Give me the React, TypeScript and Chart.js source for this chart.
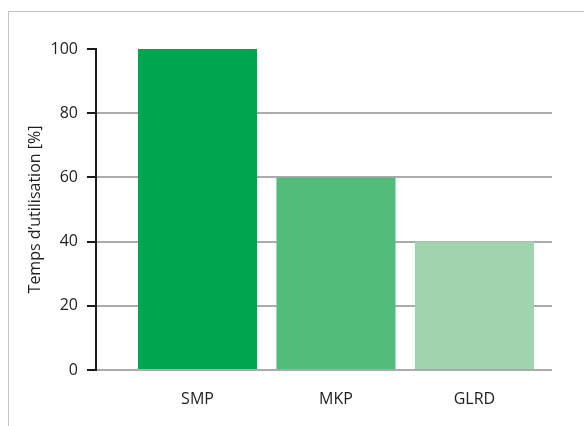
import React, { useEffect, useRef } from "react";
import { Chart, registerables } from "chart.js";

Chart.register(...registerables);

const categories = ["SMP", "MKP", "GLRD"];
const values = [100, 60, 40];
const barColors = ["#00A64F", "#52BC7A", "#A1D3AE"];
const yTicks = [0, 20, 40, 60, 80, 100];
const yTitle = "Temps d’utilisation [%]";

export default function App() {
  const ref = useRef<HTMLCanvasElement | null>(null);

  useEffect(() => {
    if (!ref.current) return;
    const font = { family: "'Open Sans', sans-serif", size: 16 };
    const chart = new Chart(ref.current, {
      type: "bar",
      data: {
        datasets: [
          {
            data: values.map((v, i) => ({ x: i, y: v })),
            backgroundColor: barColors,
            borderWidth: 0,
            barPercentage: 0.86,
            categoryPercentage: 1,
          },
        ],
      },
      options: {
        responsive: false,
        animation: false,
        events: [],
        layout: { padding: { left: 24, top: 49, right: 32, bottom: 0 } },
        plugins: { legend: { display: false }, tooltip: { enabled: false } },
        scales: {
          x: {
            type: "linear",
            min: -0.733,
            max: 2.56,
            offset: false,
            grid: { display: false },
            border: { display: false },
            afterBuildTicks: (scale: any) => {
              scale.ticks = categories.map((_, i) => ({ value: i }));
            },
            afterFit: (scale: any) => {
              scale.height = 56;
            },
            ticks: {
              autoSkip: false,
              maxRotation: 0,
              padding: 12,
              color: "#1f1f1f",
              font,
              callback: (v: any) => categories[Math.round(Number(v))] ?? "",
            },
          },
          y: {
            min: 0,
            max: 100,
            z: 1,
            afterBuildTicks: (scale: any) => {
              scale.ticks = yTicks.map((v) => ({ value: v }));
            },
            afterFit: (scale: any) => {
              scale.width = 72;
            },
            grid: {
              color: (ctx: any) =>
                ctx.tick && ctx.tick.value === 100 ? "rgba(0,0,0,0)" : "#ababad",
              tickColor: "#1a1a1a",
              lineWidth: 2,
              tickLength: 9,
              tickWidth: 2,
            },
            border: { display: true, color: "#1a1a1a", width: 2 },
            ticks: { padding: 9, color: "#1f1f1f", font },
            title: {
              display: true,
              text: yTitle,
              color: "#1f1f1f",
              font,
              padding: { top: 2, bottom: 0 },
            },
          },
        },
      },
    });
    return () => chart.destroy();
  }, []);

  return (
    <div style={{ position: "fixed", left: 0, top: 0, width: 584, height: 426, overflow: "hidden", background: "#fff" }}>
      <div
        style={{
          position: "absolute",
          left: 8,
          top: 11,
          width: 600,
          height: 440,
          borderLeft: "1px solid #c4c4c4",
          borderTop: "1px solid #c4c4c4",
        }}
      />
      <canvas ref={ref} width={584} height={426} style={{ position: "absolute", left: 0, top: 0, width: 584, height: 426 }} />
    </div>
  );
}
